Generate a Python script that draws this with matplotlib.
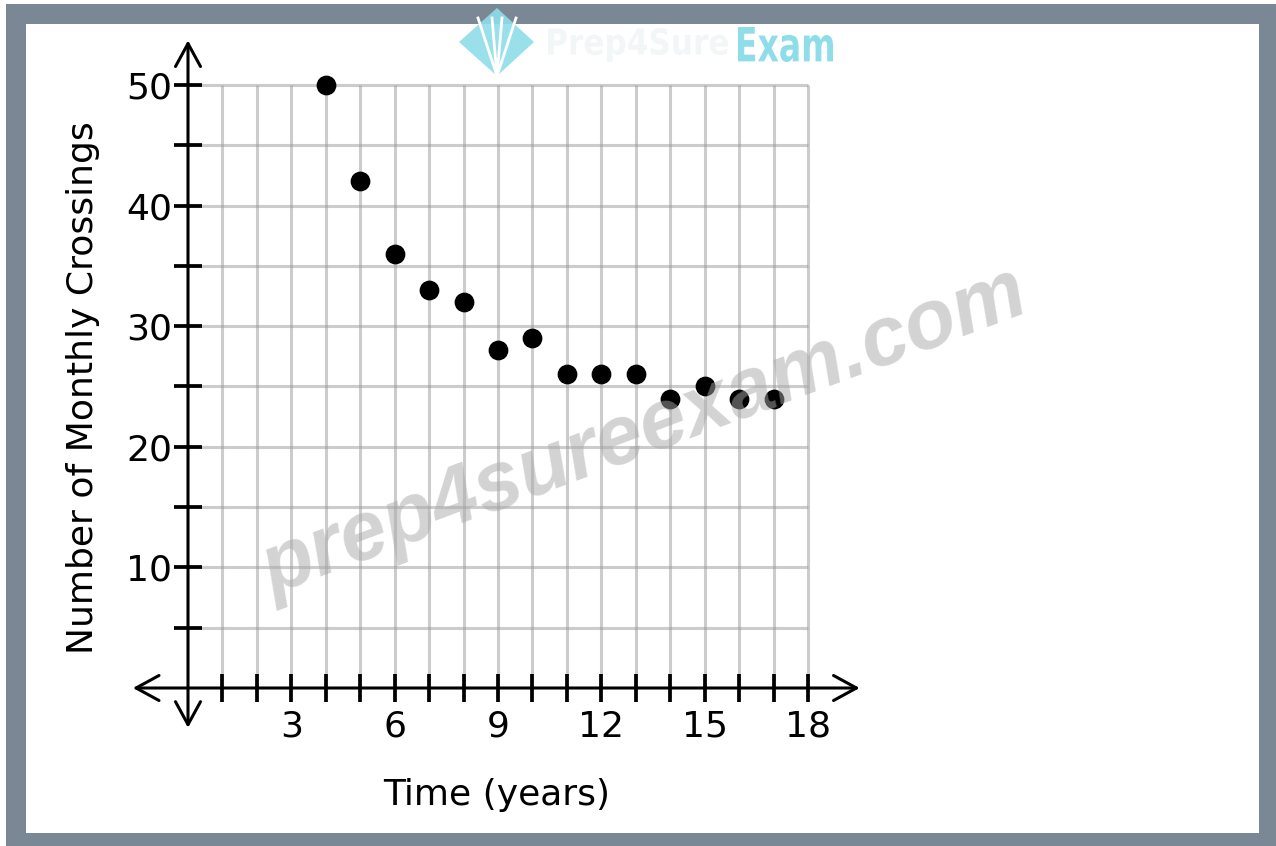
import matplotlib
matplotlib.use("Agg")
import matplotlib.pyplot as plt
from matplotlib.patches import Rectangle, Polygon, PathPatch
from matplotlib.textpath import TextPath
from matplotlib.font_manager import FontProperties
from matplotlib.transforms import Affine2D

# data
years = [4, 5, 6, 7, 8, 9, 10, 11, 12, 13, 14, 15, 16, 17]
crossings = [50, 42, 36, 33, 32, 28, 29, 26, 26, 26, 24, 25, 24, 24]

x_ticks = list(range(1, 19))
y_ticks = list(range(5, 55, 5))
x_tick_labels = [str(v) if v % 3 == 0 else "" for v in x_ticks]
y_tick_labels = [str(v) if v % 10 == 0 else "" for v in y_ticks]

W, H = 1276, 846
fig = plt.figure(figsize=(W / 100, H / 100), dpi=100)
fig.patch.set_facecolor("white")


def px(x, y):
    # pixel (from top-left) -> figure fraction
    return x / W, 1 - y / H


def box(x0, y0, x1, y1, color, z):
    fx, fy = px(x0, y1)
    fig.add_artist(Rectangle((fx, fy), (x1 - x0) / W, (y1 - y0) / H,
                             transform=fig.transFigure, color=color,
                             zorder=z, lw=0))


def boxed_text(s, x0, y0, x1, y1, color, z):
    # text squeezed into a pixel box (used for the narrow logo lettering)
    tp = TextPath((0, 0), s, size=40,
                  prop=FontProperties(family="DejaVu Sans", weight="bold"))
    bb = tp.get_extents()
    fx0, fy0 = px(x0, y1)
    fx1, fy1 = px(x1, y0)
    tr = (Affine2D().translate(-bb.x0, -bb.y0)
          .scale((fx1 - fx0) / bb.width, (fy1 - fy0) / bb.height)
          .translate(fx0, fy0) + fig.transFigure)
    fig.add_artist(PathPatch(tp, transform=tr, color=color, lw=0, zorder=z))


# frame around the picture
box(6, 4, W, H, "#7a8896", -20)
box(26, 24, 1259, 833, "white", -19)

# axes placed so that x=0 -> 188px, y=0 -> 688px
xlim = (-1.7, 19.7)
ylim = (-3.6, 54.0)
sx = (808 - 188) / 18.0
sy = (688 - 85) / 50.0
left = 188 + xlim[0] * sx
right = 188 + xlim[1] * sx
bottom = 688 - ylim[0] * sy
top = 688 - ylim[1] * sy
ax = fig.add_axes([left / W, 1 - bottom / H, (right - left) / W, (bottom - top) / H])
ax.set_facecolor("none")
ax.set_xlim(*xlim)
ax.set_ylim(*ylim)

# grid
ax.vlines(x_ticks, 0, 50, color="#9a9a9a", alpha=0.5, lw=2.2, zorder=1)
ax.hlines(y_ticks, 0, 18, color="#9a9a9a", alpha=0.5, lw=2.2, zorder=1)

# axes with arrows
arrow = dict(arrowstyle="<->,head_length=0.55,head_width=0.3", lw=2.2,
             color="black", mutation_scale=30, shrinkA=0, shrinkB=0)
ax.annotate("", xy=(19.5, 0), xytext=(-1.6, 0), arrowprops=arrow, zorder=3)
ax.annotate("", xy=(0, 53.7), xytext=(0, -3.3), arrowprops=arrow, zorder=3)

for s in ax.spines.values():
    s.set_color("none")
ax.spines["bottom"].set_position(("data", 0))
ax.spines["left"].set_position(("data", 0))

ax.set_xticks(x_ticks)
ax.set_xticklabels(x_tick_labels)
ax.set_yticks(y_ticks)
ax.set_yticklabels(y_tick_labels)
ax.tick_params(axis="both", direction="inout", length=20, width=2.7,
               color="black", labelsize=26)
ax.tick_params(axis="x", pad=5.5)
ax.tick_params(axis="y", pad=1.5)

ax.scatter(years, crossings, s=175, color="black", zorder=5)

# axis labels
fig.text(*px(497, 795), "Time (years)", fontsize=26, ha="center", va="center")
fig.text(*px(83, 388), "Number of Monthly Crossings", fontsize=26,
         rotation=90, ha="center", va="center")

# logo
cyan = "#8fdde9"
fig.add_artist(Polygon([px(497, 8), px(534, 42), px(497, 76), px(459, 42)],
                       closed=True, transform=fig.transFigure, color=cyan,
                       alpha=0.9, lw=0, zorder=6))
for xt in [478, 492, 502, 516]:
    x0, y0 = px(497, 76)
    x1, y1 = px(xt, 18)
    fig.add_artist(plt.Line2D([x0, x1], [y0, y1], transform=fig.transFigure,
                              color="white", lw=2, zorder=7))
boxed_text("Prep4Sure", 548, 28, 728, 62, "#f3f6f7", 6)
boxed_text("Exam", 738, 27, 833, 62, cyan, 6)

# watermark
fig.text(*px(645, 432), "prep4sureexam.com", fontsize=60, color="#a8a8a8",
         alpha=0.5, rotation=20.5, ha="center", va="center",
         rotation_mode="anchor", fontweight="bold", fontstyle="italic",
         family=["Liberation Sans", "DejaVu Sans"], zorder=10)

fig.savefig("out.png", dpi=100)
